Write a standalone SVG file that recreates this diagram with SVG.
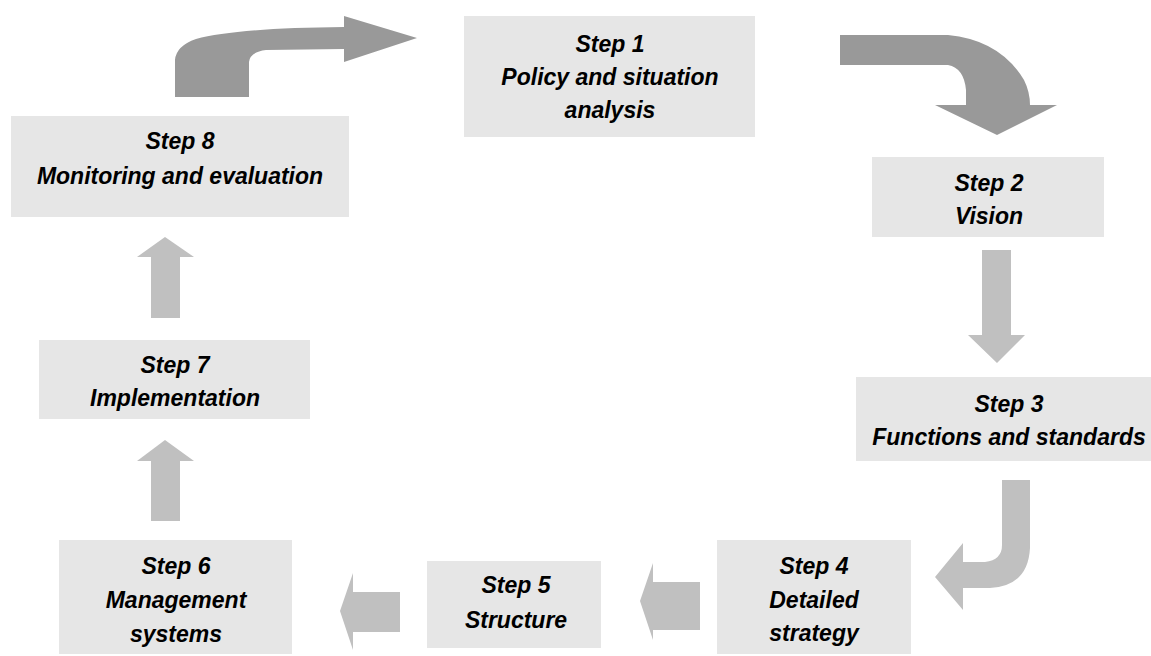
<svg xmlns="http://www.w3.org/2000/svg" width="1151" height="656" viewBox="0 0 1151 656">
<style>
.box{fill:#e6e6e6}
.lbl{font-family:"Liberation Sans",Arial,sans-serif;font-weight:bold;font-style:italic;font-size:23px;fill:#000;text-anchor:middle}
.dark{fill:#999999}
.light{fill:#c0c0c0}
</style>
<rect width="1151" height="656" fill="#ffffff"/>
<g id="connectors">
<path class="dark" d="M175,97 L175,60 Q176,46 196,39 Q236,28 344,27 L344,16 L417,38 L344,62 L344,49 L266,50 Q250,52 249,62 L249,97 Z"/>
<path class="dark" d="M840,35 L948,35 Q1000,40 1024,80 Q1030,92 1030,105 L1057,105 L997,135 L935,105 L966,105 L966,90 Q964,68 948,65 L840,65 Z"/>
<path class="light" d="M982,250 L1011,250 L1011,335 L1025,335 L997,363 L968,335 L982,335 Z"/>
<path class="light" d="M1002,480 L1030,480 L1030,548 Q1028,586 990,588 L963,588 L963,610 L935,577 L963,543 L963,562 L985,562 Q1002,560 1002,545 Z"/>
<path class="light" d="M700,582 L700,630 L653,630 L653,640 L640,601 L653,563 L653,582 Z"/>
<path class="light" d="M400,592 L400,632 L353,632 L353,650 L340,611 L353,573 L353,592 Z"/>
<path class="light" d="M151,521 L151,461 L137,461 L165,440 L194,461 L180,461 L180,521 Z"/>
<path class="light" d="M151,318 L151,257 L137,257 L165,237 L194,257 L180,257 L180,318 Z"/>
</g>
<g id="step1">
<rect class="box" x="464" y="16" width="291" height="121"/>
<text class="lbl" x="610" y="52">Step 1</text>
<text class="lbl" x="610" y="85">Policy and situation</text>
<text class="lbl" x="610" y="118">analysis</text>
</g>
<g id="step2">
<rect class="box" x="872" y="157" width="232" height="80"/>
<text class="lbl" x="989" y="191">Step 2</text>
<text class="lbl" x="989" y="224">Vision</text>
</g>
<g id="step3">
<rect class="box" x="856" y="377" width="300" height="84"/>
<text class="lbl" x="1009" y="412">Step 3</text>
<text class="lbl" x="1009" y="445">Functions and standards</text>
</g>
<g id="step4">
<rect class="box" x="717" y="540" width="194" height="114"/>
<text class="lbl" x="814" y="574">Step 4</text>
<text class="lbl" x="814" y="608">Detailed</text>
<text class="lbl" x="814" y="641">strategy</text>
</g>
<g id="step5">
<rect class="box" x="427" y="561" width="174" height="87"/>
<text class="lbl" x="516" y="593">Step 5</text>
<text class="lbl" x="516" y="628">Structure</text>
</g>
<g id="step6">
<rect class="box" x="59" y="540" width="233" height="114"/>
<text class="lbl" x="176" y="574">Step 6</text>
<text class="lbl" x="176" y="608">Management</text>
<text class="lbl" x="176" y="642">systems</text>
</g>
<g id="step7">
<rect class="box" x="39" y="340" width="271" height="79"/>
<text class="lbl" x="175" y="373">Step 7</text>
<text class="lbl" x="175" y="406">Implementation</text>
</g>
<g id="step8">
<rect class="box" x="11" y="116" width="338" height="101"/>
<text class="lbl" x="180" y="149">Step 8</text>
<text class="lbl" x="180" y="184">Monitoring and evaluation</text>
</g>
</svg>
